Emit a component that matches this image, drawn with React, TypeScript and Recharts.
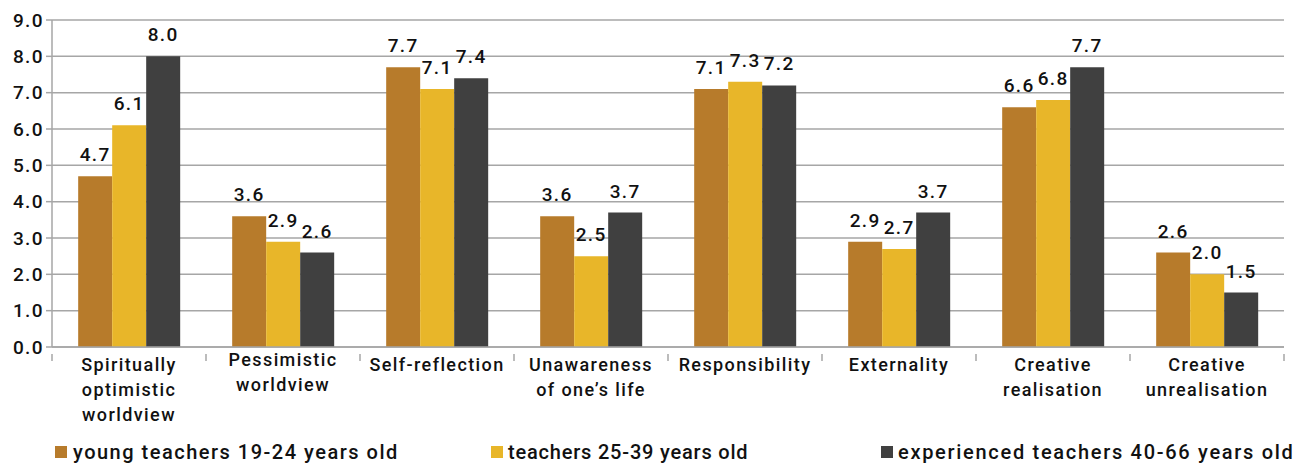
import { BarChart, Bar, XAxis, YAxis, CartesianGrid, LabelList, Legend } from "recharts";

const categories = [
  "Spiritually\noptimistic\nworldview",
  "Pessimistic\nworldview",
  "Self-reflection",
  "Unawareness\nof one\u2019s life",
  "Responsibility",
  "Externality",
  "Creative\nrealisation",
  "Creative\nunrealisation",
];
const young = [4.7, 3.6, 7.7, 3.6, 7.1, 2.9, 6.6, 2.6];
const middle = [6.1, 2.9, 7.1, 2.5, 7.3, 2.7, 6.8, 2.0];
const experienced = [8.0, 2.6, 7.4, 3.7, 7.2, 3.7, 7.7, 1.5];
const yTicks = [0, 1, 2, 3, 4, 5, 6, 7, 8, 9];

const seriesNames = [
  "young teachers 19-24 years old",
  "teachers 25-39 years old",
  "experienced teachers 40-66 years old",
];
const COLORS = ["#B77B2B", "#E8B629", "#404040"];

const data = categories.map((name, i) => ({
  name,
  young: young[i],
  middle: middle[i],
  experienced: experienced[i],
}));

const FONT = "Roboto, sans-serif";
const GRID = "#a6a6a6";
// plot width / number of categories
const BAND = (1301 - 52 - 17) / 8;

const textStyle = { fill: "#111", fontSize: 19, fontFamily: FONT, fontWeight: 500, letterSpacing: 1.4 };

function CategoryTick(props: any) {
  const { x, y, payload, index } = props;
  const lines = String(payload.value).split("\n");
  // the second label sits a little higher in the original
  const top = index === 1 ? 11 : 16;
  return (
    <g transform={`translate(${x},${y})`}>
      <line x1={-BAND / 2} x2={-BAND / 2} y1={-1} y2={6} stroke={GRID} strokeWidth={1.5} />
      {index === categories.length - 1 && (
        <line x1={BAND / 2} x2={BAND / 2} y1={-1} y2={6} stroke={GRID} strokeWidth={1.5} />
      )}
      {lines.map((line, i) => (
        <text key={i} x={0} y={top + i * 25} textAnchor="middle" {...textStyle} fontSize={18}>
          {line}
        </text>
      ))}
    </g>
  );
}

function renderLegend() {
  const pos = [55, 491, 881];
  const spacing = [1.5, 0.8, 1.7];
  return (
    <div style={{ position: "relative", height: 26, fontFamily: FONT, fontSize: 20, fontWeight: 500, color: "#111" }}>
      {seriesNames.map((n, i) => (
        <div key={n} style={{ position: "absolute", left: pos[i], top: 0, display: "flex", alignItems: "center", whiteSpace: "nowrap", letterSpacing: spacing[i] }}>
          <span style={{ width: 12, height: 12, background: COLORS[i], display: "inline-block", marginRight: i === 0 ? 6 : 5 }} />
          <span>{n}</span>
        </div>
      ))}
    </div>
  );
}

const fmt = (v: any) => Number(v).toFixed(1);

export default function App() {
  return (
    <div style={{ position: "absolute", left: 0, top: 0, background: "#fff" }}>
      <BarChart
        width={1301}
        height={465}
        data={data}
        margin={{ top: 20, right: 17, bottom: 0, left: 0 }}
        barCategoryGap="17%"
        barGap={0}
      >
        <CartesianGrid vertical={false} stroke={GRID} strokeWidth={1.5} />
        <XAxis
          dataKey="name"
          interval={0}
          tick={<CategoryTick />}
          height={92}
          stroke={GRID}
          strokeWidth={1.5}
          tickLine={false}
        />
        <YAxis
          domain={[0, 9]}
          ticks={yTicks}
          tickFormatter={fmt}
          width={52}
          stroke={GRID}
          strokeWidth={1.5}
          tickSize={6}
          tick={textStyle}
        />
        <Legend
          verticalAlign="bottom"
          align="left"
          content={renderLegend}
          wrapperStyle={{ left: 0, width: 1301, bottom: -1 }}
        />
        <Bar dataKey="young" fill={COLORS[0]} isAnimationActive={false}>
          <LabelList dataKey="young" position="top" formatter={fmt} offset={15} style={textStyle} />
        </Bar>
        <Bar dataKey="middle" fill={COLORS[1]} isAnimationActive={false}>
          <LabelList dataKey="middle" position="top" formatter={fmt} offset={15} style={textStyle} />
        </Bar>
        <Bar dataKey="experienced" fill={COLORS[2]} isAnimationActive={false}>
          <LabelList dataKey="experienced" position="top" formatter={fmt} offset={15} style={textStyle} />
        </Bar>
      </BarChart>
    </div>
  );
}
